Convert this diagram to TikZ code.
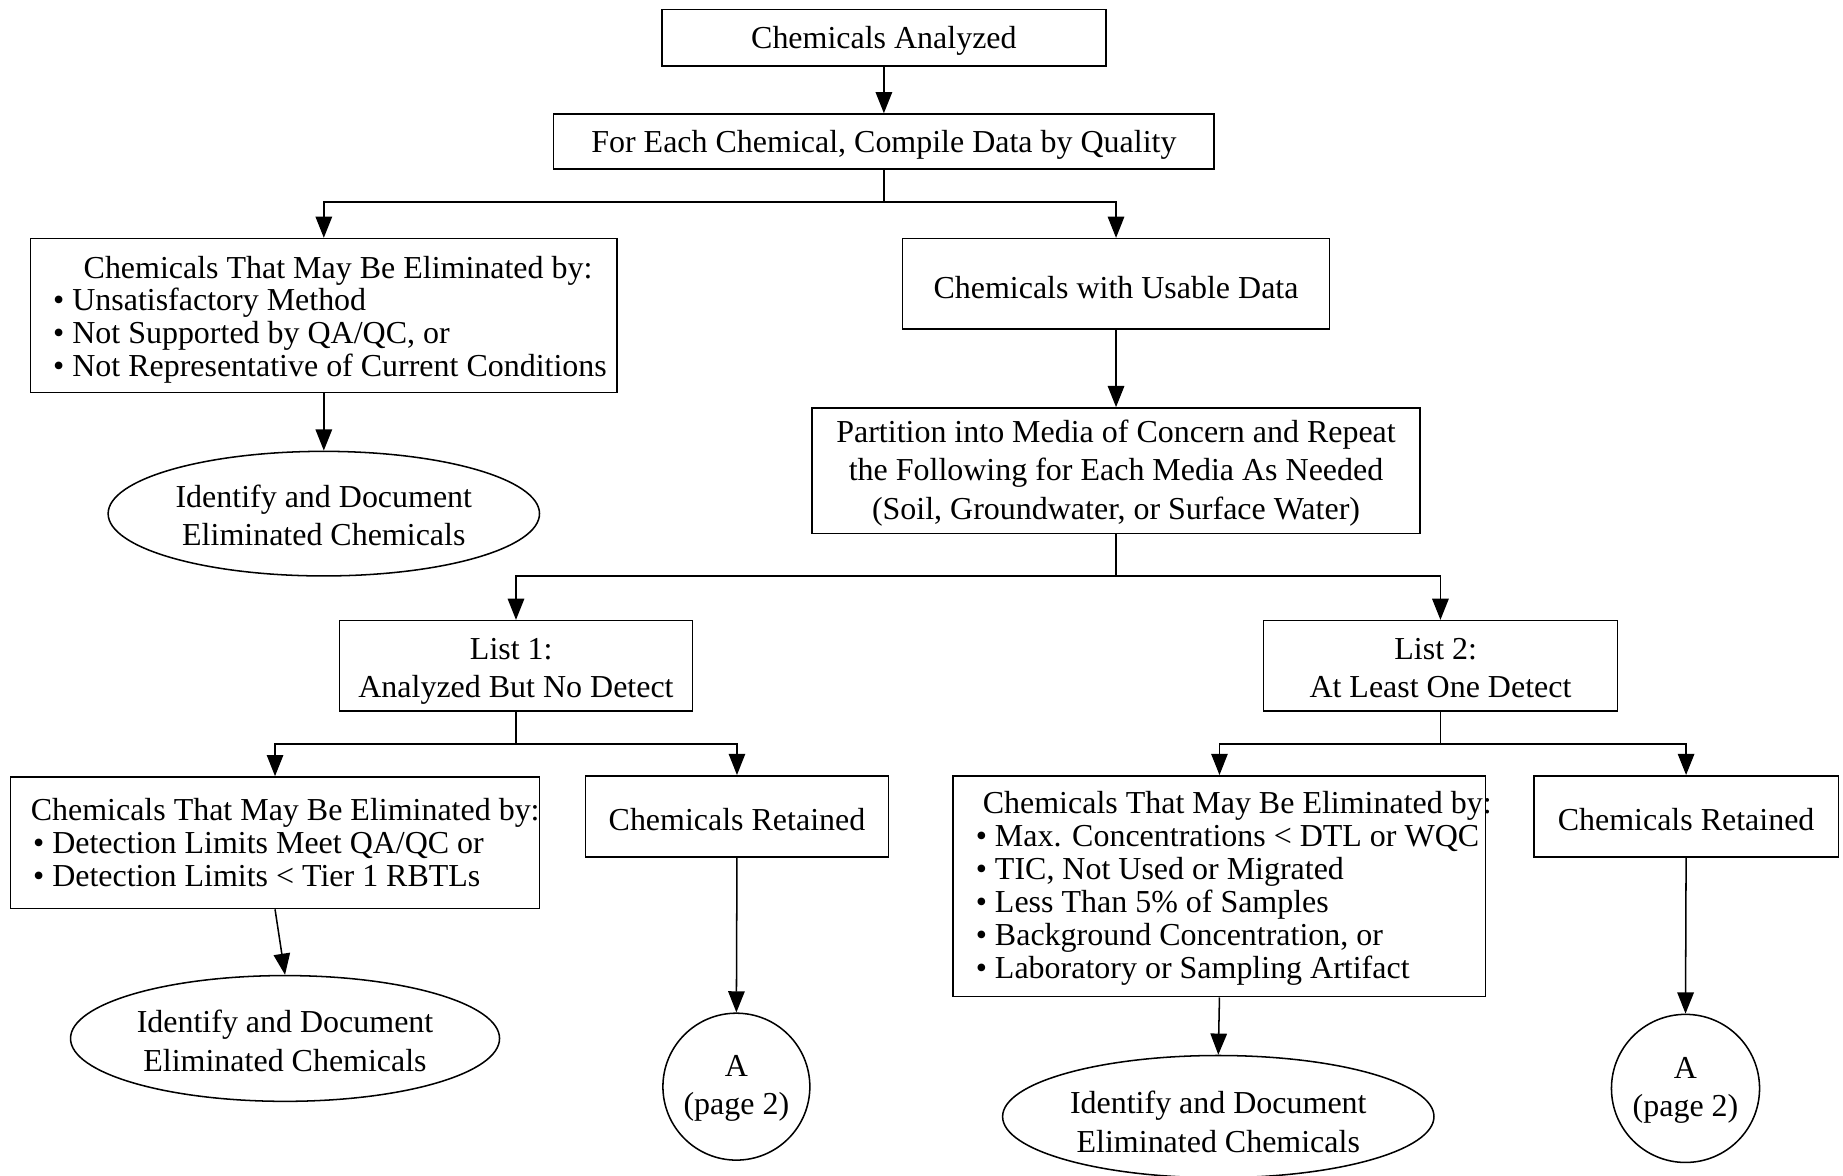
\documentclass[tikz,border=0pt]{standalone}
\usepackage{fontspec}
\setmainfont{Liberation Serif}
\usetikzlibrary{shapes.geometric,arrows.meta}
\begin{document}
\begin{tikzpicture}[x=1pt,y=-1pt,
  every node/.style={font=\fontsize{27.2}{32.5}\selectfont, inner sep=0pt},
  box/.style={draw, line width=1.3pt, rectangle, align=center, execute at begin node={\rule{0pt}{25pt}}},
  plainbox/.style={draw, line width=1.3pt, rectangle},
  oval/.style={draw, line width=1.3pt, ellipse},
  circ/.style={draw, line width=1.3pt, circle},
  ctxt/.style={align=center},
  listtxt/.style={anchor=west, align=left, font=\fontsize{27.2}{28}\selectfont},
  arr/.style={line width=1.3pt, -{Triangle[length=18pt,width=14pt]}},
  ln/.style={line width=1.3pt}]
\useasboundingbox (0,0) rectangle (1568,1000);
% nodes
\node[box, minimum width=378, minimum height=48] (b1) at (752,32) {Chemicals Analyzed};
\node[box, minimum width=562, minimum height=47] (b2) at (752,120.5) {For Each Chemical, Compile Data by Quality};
\node[plainbox, minimum width=499, minimum height=131] (b3) at (275.5,268.5) {};
\node[listtxt] (b3t) at (45,272) {\hspace*{26pt}Chemicals That May Be Eliminated by:\\
  \textbullet\ Unsatisfactory Method\\
  \textbullet\ Not Supported by QA/QC, or\\
  \textbullet\ Not Representative of Current Conditions};
\node[box, minimum width=363, minimum height=77] (b4) at (949.5,241.5) {Chemicals with Usable Data};
\node[oval, minimum width=367, minimum height=106] (e1) at (275.5,437) {};
\node[ctxt] (e1t) at (275.5,438.5) {Identify and Document\\Eliminated Chemicals};
\node[plainbox, minimum width=517, minimum height=107] (b5) at (949.5,400.5) {};
\node[ctxt] (b5t) at (949.5,402.5) {Partition into Media of Concern and Repeat\\the Following for Each Media As Needed\\(Soil, Groundwater, or Surface Water)};
\node[plainbox, minimum width=300, minimum height=77] (b6) at (439,566.5) {};
\node[ctxt] (b6t) at (439,571) {\hspace*{-8pt}List 1:\\Analyzed But No Detect};
\node[plainbox, minimum width=301, minimum height=77] (b7) at (1225.5,566.5) {};
\node[ctxt] (b7t) at (1225.5,568.5) {\hspace*{-8pt}List 2:\\At Least One Detect};
\node[plainbox, minimum width=450, minimum height=112] (b8) at (234,717) {};
\node[listtxt] (b8t) at (26,717) {Chemicals That May Be Eliminated by:\\
  \hspace*{2pt}\textbullet\ Detection Limits Meet QA/QC or\\
  \hspace*{2pt}\textbullet\ Detection Limits {<} Tier 1 RBTLs};
\node[box, minimum width=258, minimum height=69, execute at begin node={\rule{0pt}{21pt}}] (b9) at (627,694.5) {Chemicals Retained};
\node[oval, minimum width=365, minimum height=107] (e2) at (242.5,883.5) {};
\node[ctxt] (e2t) at (242.5,885.5) {Identify and Document\\Eliminated Chemicals};
\node[circ, minimum size=125] (c1) at (626.5,924.5) {};
\node[ctxt] (c1t) at (626.5,926) {A\\(page 2)};
\node[plainbox, minimum width=453, minimum height=188] (b10) at (1037.5,754) {};
\node[listtxt] (b10t) at (830,756) {\hspace*{6pt}Chemicals That May Be Eliminated by:\\
  \textbullet\ Max. Concentrations {<} DTL or WQC\\
  \textbullet\ TIC, Not Used or Migrated\\
  \textbullet\ Less Than 5\% of Samples\\
  \textbullet\ Background Concentration, or\\
  \textbullet\ Laboratory or Sampling Artifact};
\node[box, minimum width=259, minimum height=69, execute at begin node={\rule{0pt}{21pt}}] (b11) at (1434.5,694.5) {Chemicals Retained};
\node[oval, minimum width=367, minimum height=104] (e3) at (1036.5,950) {};
\node[ctxt] (e3t) at (1036.5,954.5) {Identify and Document\\Eliminated Chemicals};
\node[circ, minimum size=126] (c2) at (1434,926) {};
\node[ctxt] (c2t) at (1434,927.5) {A\\(page 2)};
% junctions
\coordinate (j1) at (752,172);
\coordinate (j2) at (949.5,490);
\coordinate (j3) at (439,633);
\coordinate (j4) at (1225.5,633);
% connectors
\draw[arr] (b1) -- (b2);
\draw[ln] (b2.south) -- (j1);
\draw[arr] (j1) -| (b3.north);
\draw[arr] (j1) -| (b4.north);
\draw[arr] (b3.south) -- (e1.north);
\draw[arr] (b4.south) -- (b5.north);
\draw[ln] (b5.south) -- (j2);
\draw[arr] (j2) -| (b6.north);
\draw[arr] (j2) -| (b7.north);
\draw[ln] (b6.south) -- (j3);
\draw[arr] (j3) -| (b8.north);
\draw[arr] (j3) -| (b9.north);
\draw[arr] (b8.south) -- (e2.north);
\draw[arr] (b9.south) -- (c1.north);
\draw[ln] (b7.south) -- (j4);
\draw[arr] (j4) -| (b10.north);
\draw[arr] (j4) -| (b11.north);
\draw[arr] (b10.south) -- (e3.north);
\draw[arr] (b11.south) -- (c2.north);
\end{tikzpicture}
\end{document}
